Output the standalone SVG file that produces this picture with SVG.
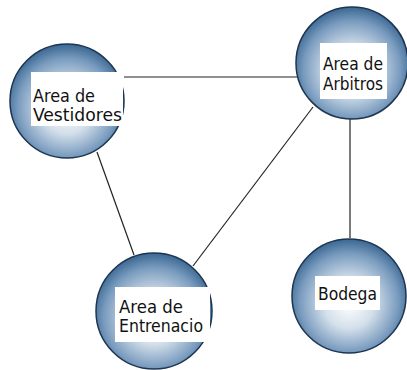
<svg xmlns="http://www.w3.org/2000/svg" width="407" height="370" viewBox="0 0 407 370">
<defs>
<radialGradient id="ball" cx="50%" cy="55%" r="55%" fx="50%" fy="58%">
<stop offset="0" stop-color="#ffffff"/>
<stop offset="0.4" stop-color="#d3dfea"/>
<stop offset="0.78" stop-color="#7a9cbf"/>
<stop offset="1" stop-color="#3a6792"/>
</radialGradient>
<style>
.ball{fill:url(#ball);stroke:#1e3550;stroke-width:1.5}
.lbl{fill:#ffffff;stroke:none}
.t{font-family:"DejaVu Sans","Liberation Sans",sans-serif;font-stretch:condensed;font-size:18px;fill:#111}
.edge{stroke:#222;stroke-width:1.2;fill:none}
</style>
</defs>
<rect width="407" height="370" fill="#ffffff"/>
<g id="connectors">
<line class="edge" x1="124" y1="77" x2="298" y2="77"/>
<line class="edge" x1="97" y1="152" x2="134" y2="255"/>
<line class="edge" x1="313" y1="107" x2="193" y2="266"/>
<line class="edge" x1="350" y1="118" x2="350" y2="238"/>
</g>
<g id="vestidores">
<circle class="ball" cx="67" cy="101" r="57"/>
<rect class="lbl" x="31" y="72" width="92" height="54"/>
<text class="t" x="33" y="102" textLength="62" lengthAdjust="spacingAndGlyphs">Area de</text>
<text class="t" x="33" y="121" textLength="89" lengthAdjust="spacingAndGlyphs">Vestidores</text>
</g>
<g id="arbitros">
<circle class="ball" cx="352" cy="63" r="56"/>
<rect class="lbl" x="320" y="43" width="67" height="56"/>
<text class="t" x="323" y="70" textLength="60" lengthAdjust="spacingAndGlyphs">Area de</text>
<text class="t" x="323" y="90" textLength="60" lengthAdjust="spacingAndGlyphs">Arbitros</text>
</g>
<g id="entrenacio">
<circle class="ball" cx="154" cy="311" r="58"/>
<rect class="lbl" x="115" y="287" width="95" height="55"/>
<text class="t" x="119" y="313" textLength="64" lengthAdjust="spacingAndGlyphs">Area de</text>
<text class="t" x="119" y="332" textLength="84" lengthAdjust="spacingAndGlyphs">Entrenacio</text>
</g>
<g id="bodega">
<circle class="ball" cx="349" cy="296" r="57"/>
<rect class="lbl" x="315" y="276" width="65" height="34"/>
<text class="t" x="318" y="300" textLength="59" lengthAdjust="spacingAndGlyphs">Bodega</text>
</g>
</svg>
